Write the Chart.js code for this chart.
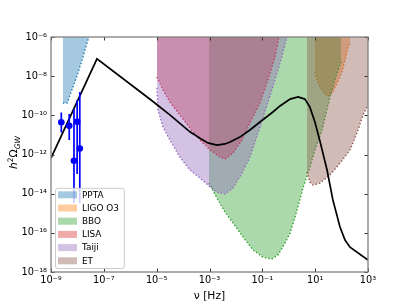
<!DOCTYPE html>
<html>
<head>
<meta charset="utf-8">
<script src="https://cdn.jsdelivr.net/npm/chart.js@4.4.1/dist/chart.umd.min.js"></script>
<style>
  html, body { margin: 0; padding: 0; background: #fff; }
</style>
</head>
<body>
<canvas id="gwChart" width="409" height="307"></canvas>
<script>
// all values are log10
var xTicks = [1e-9, 1e-7, 1e-5, 1e-3, 1e-1, 1e1, 1e3];
var yTicks = [1e-18, 1e-16, 1e-14, 1e-12, 1e-10, 1e-8, 1e-6];

// model spectrum (black line)
var modelLogF     = [-9, -7.26, -5.25, -4.50, -3.74, -3.36, -3.06, -2.72, -2.41, -2.22, -1.85, -1.47, -1.09, -0.60, -0.33, 0.05, 0.35, 0.61, 0.80, 0.99, 1.18, 1.45, 1.67, 1.94, 2.13, 2.32, 3.0];
var modelLogOmega = [-12.18, -7.12, -9.18, -9.98, -10.84, -11.17, -11.41, -11.52, -11.46, -11.36, -11.11, -10.75, -10.34, -9.83, -9.52, -9.17, -9.06, -9.17, -9.58, -10.34, -11.31, -12.79, -14.32, -15.70, -16.37, -16.73, -17.39];

// PTA data points with error bars
var ptaLogF     = [-8.61, -8.31, -8.13, -8.01, -7.91];
var ptaLogOmega = [-10.35, -10.53, -12.32, -10.33, -11.69];
var ptaLogLow   = [-10.88, -11.26, -14.48, -13.0, -14.48];
var ptaLogHigh  = [-9.86, -9.93, -9.68, -9.22, -8.81];

// sensitivity curves
var pptaLogF      = [-8.55, -8.39, -8.21, -7.98, -7.79, -7.64, -7.56];
var pptaLogOmega  = [-9.37, -9.37, -8.71, -7.84, -7.02, -6.31, -6.0];
var ligoLogF      = [0.99, 1.11, 1.30, 1.45, 1.64, 1.83, 2.01, 2.13, 2.24, 2.32];
var ligoLogOmega  = [-7.79, -8.35, -8.81, -9.01, -8.86, -8.35, -7.79, -7.17, -6.56, -6.31];
var bboLogF       = [-3.02, -2.72, -2.41, -2.11, -1.73, -1.35, -0.98, -0.64, -0.41, -0.14, 0.05, 0.24, 0.54, 0.80, 0.99, 1.26, 1.56, 1.83, 1.98];
var bboLogOmega   = [-13.46, -14.22, -14.94, -15.50, -16.21, -16.88, -17.24, -17.34, -17.13, -16.52, -16.01, -15.19, -13.71, -12.64, -11.77, -10.75, -9.06, -7.84, -7.28];
var lisaLogF      = [-4.99, -4.76, -4.50, -4.12, -3.74, -3.36, -2.98, -2.60, -2.41, -2.11, -1.77, -1.47, -1.09, -0.79, -0.52, -0.37];
var lisaLogOmega  = [-8.04, -8.71, -9.32, -9.98, -10.65, -11.26, -11.77, -12.13, -12.23, -11.92, -11.26, -10.39, -9.37, -8.20, -7.02, -6.0];
var taijiLogF     = [-4.99, -4.95, -4.76, -4.50, -4.12, -3.74, -3.36, -3.06, -2.72, -2.41, -2.11, -1.77, -1.47, -1.09, -0.64, -0.33, -0.07];
var taijiLogOmega = [-8.60, -9.73, -10.60, -11.26, -12.13, -12.79, -13.20, -13.56, -13.92, -14.02, -13.71, -12.95, -12.13, -10.60, -8.71, -7.33, -6.0];
var etLogF        = [0.69, 0.80, 0.92, 1.18, 1.56, 1.94, 2.32, 2.62, 2.81, 3.0];
var etLogOmega    = [-12.89, -13.41, -13.56, -13.46, -13.05, -12.44, -11.77, -10.75, -9.98, -9.47];

var detectorNames = ['PPTA', 'LIGO O3', 'BBO', 'LISA', 'Taiji', 'ET'];
var detectorF     = [pptaLogF, ligoLogF, bboLogF, lisaLogF, taijiLogF, etLogF];
var detectorOmega = [pptaLogOmega, ligoLogOmega, bboLogOmega, lisaLogOmega, taijiLogOmega, etLogOmega];
var detectorRGB   = ['31,119,180', '255,127,14', '44,160,44', '214,39,40', '148,103,189', '140,86,75'];

function toPoints(lf, lo) {
    return lf.map(function (f, i) { return {x: Math.pow(10, f), y: Math.pow(10, lo[i])}; });
}

var supMap = {'-': '\u207b', '0': '\u2070', '1': '\u00b9', '2': '\u00b2', '3': '\u00b3', '4': '\u2074',
              '5': '\u2075', '6': '\u2076', '7': '\u2077', '8': '\u2078', '9': '\u2079'};
function powerLabel(value) {
    var e = String(Math.round(Math.log10(value)));
    return '10' + e.split('').map(function (c) { return supMap[c]; }).join('');
}

var barData = [];
ptaLogF.forEach(function (f, i) {
    barData.push({x: Math.pow(10, f), y: Math.pow(10, ptaLogLow[i])});
    barData.push({x: Math.pow(10, f), y: Math.pow(10, ptaLogHigh[i])});
    barData.push({x: Math.pow(10, f), y: null});
});

var regionSets = detectorNames.map(function (name, i) {
    return {
        label: name,
        data: toPoints(detectorF[i], detectorOmega[i]),
        borderColor: 'rgb(' + detectorRGB[i] + ')',
        backgroundColor: 'rgba(' + detectorRGB[i] + ',0.4)',
        borderWidth: 1.4,
        borderDash: [1.4, 2.1],
        pointRadius: 0,
        fill: 'end',
        order: 10 - i
    };
});

var datasets = [
    {
        label: 'bars',
        data: barData,
        borderColor: '#0000ff',
        borderWidth: 1.7,
        pointRadius: 0,
        spanGaps: false,
        fill: false,
        order: 0
    },
    {
        label: 'PTA',
        data: toPoints(ptaLogF, ptaLogOmega),
        showLine: false,
        pointRadius: 3.3,
        pointBackgroundColor: '#0000ff',
        pointBorderColor: '#0000ff',
        pointBorderWidth: 0,
        order: 1
    },
    {
        label: 'model',
        data: toPoints(modelLogF, modelLogOmega),
        borderColor: '#000',
        borderWidth: 1.7,
        pointRadius: 0,
        fill: false,
        order: 2
    }
].concat(regionSets);

// frame + inward ticks on all four sides
var frameTicks = {
    id: 'frameTicks',
    afterDraw: function (chart) {
        var ctx = chart.ctx, a = chart.chartArea;
        var xs = chart.scales.x, ys = chart.scales.y;
        ctx.save();
        ctx.strokeStyle = '#333';
        ctx.lineWidth = 1;
        ctx.beginPath();
        xs.ticks.forEach(function (t) {
            var px = Math.round(xs.getPixelForValue(t.value)) + 0.5;
            ctx.moveTo(px, a.bottom); ctx.lineTo(px, a.bottom - 3.5);
            ctx.moveTo(px, a.top); ctx.lineTo(px, a.top + 3.5);
        });
        ys.ticks.forEach(function (t) {
            var py = Math.round(ys.getPixelForValue(t.value)) + 0.5;
            ctx.moveTo(a.left, py); ctx.lineTo(a.left + 3.5, py);
            ctx.moveTo(a.right, py); ctx.lineTo(a.right - 3.5, py);
        });
        ctx.stroke();
        ctx.strokeStyle = '#808080';
        ctx.lineWidth = 1.3;
        ctx.strokeRect(a.left, a.top, a.right - a.left, a.bottom - a.top);
        ctx.restore();
    }
};

// matplotlib-like framed legend in the lower left corner
var boxLegend = {
    id: 'boxLegend',
    afterDraw: function (chart) {
        var ctx = chart.ctx, a = chart.chartArea;
        var rowH = 13.2;
        ctx.save();
        ctx.font = '8.9px "DejaVu Sans"';
        var textW = 0;
        regionSets.forEach(function (d) { textW = Math.max(textW, ctx.measureText(d.label).width); });
        var w = 27 + textW + 5, h = rowH * regionSets.length + 1;
        var x0 = a.left + 4, y0 = a.bottom - 4 - h;
        ctx.beginPath();
        ctx.roundRect(x0 + 0.5, y0 + 0.5, w, h, 2.5);
        ctx.fillStyle = 'rgba(255,255,255,0.8)';
        ctx.fill();
        ctx.strokeStyle = '#cccccc';
        ctx.lineWidth = 1;
        ctx.stroke();
        ctx.textBaseline = 'middle';
        regionSets.forEach(function (d, i) {
            var cy = y0 + 7 + i * rowH;
            ctx.fillStyle = d.backgroundColor;
            ctx.fillRect(x0 + 3, cy - 3.5, 19, 7);
            ctx.fillStyle = '#000';
            ctx.fillText(d.label, x0 + 27, cy + 0.5);
        });
        ctx.restore();
    }
};

// y axis title h^2 Omega_GW
var yTitle = {
    id: 'yTitle',
    afterDraw: function (chart) {
        var ctx = chart.ctx, a = chart.chartArea;
        var parts = [
            {t: 'h', f: 'italic 10.7px "DejaVu Sans"', dy: 0},
            {t: '2', f: '7.5px "DejaVu Sans"', dy: -4.5},
            {t: '\u03a9', f: '10.7px "DejaVu Sans"', dy: 0},
            {t: 'GW', f: 'italic 7.5px "DejaVu Sans"', dy: 2.5}
        ];
        ctx.save();
        ctx.translate(17, (a.top + a.bottom) / 2 - 2);
        ctx.rotate(-Math.PI / 2);
        ctx.fillStyle = '#000';
        ctx.textBaseline = 'alphabetic';
        var total = 0;
        parts.forEach(function (p) { ctx.font = p.f; p.w = ctx.measureText(p.t).width; total += p.w; });
        var x = -total / 2;
        parts.forEach(function (p) { ctx.font = p.f; ctx.fillText(p.t, x, p.dy); x += p.w; });
        ctx.restore();
    }
};

Chart.defaults.font.family = '"DejaVu Sans"';

var ctx = document.getElementById('gwChart').getContext('2d');
var chart = new Chart(ctx, {
    type: 'line',
    data: { datasets: datasets },
    options: {
        responsive: false,
        animation: false,
        layout: { padding: { left: 0, top: 37, right: 41, bottom: 0 } },
        elements: { line: { tension: 0 } },
        plugins: { legend: { display: false }, tooltip: { enabled: false } },
        scales: {
            x: {
                type: 'logarithmic',
                min: 1e-9,
                max: 1e3,
                grid: { display: false, drawTicks: false },
                border: { display: false },
                afterBuildTicks: function (s) { s.ticks = xTicks.map(function (v) { return {value: v}; }); },
                afterFit: function (s) { s.height = 35; },
                ticks: {
                    autoSkip: false, maxRotation: 0, padding: 3, color: '#000',
                    font: { size: 9.8 },
                    callback: powerLabel
                },
                title: {
                    display: true, text: 'ν [Hz]', color: '#000',
                    font: { size: 10.7 }, padding: { top: 0, bottom: 4 }
                }
            },
            y: {
                type: 'logarithmic',
                min: 1e-18,
                max: 1e-6,
                grid: { display: false, drawTicks: false },
                border: { display: false },
                afterBuildTicks: function (s) { s.ticks = yTicks.map(function (v) { return {value: v}; }); },
                afterFit: function (s) { s.width = 51; },
                ticks: {
                    autoSkip: false, padding: 4, color: '#000',
                    font: { size: 9.8 },
                    callback: powerLabel
                }
            }
        }
    },
    plugins: [frameTicks, boxLegend, yTitle]
});
</script>
</body>
</html>
